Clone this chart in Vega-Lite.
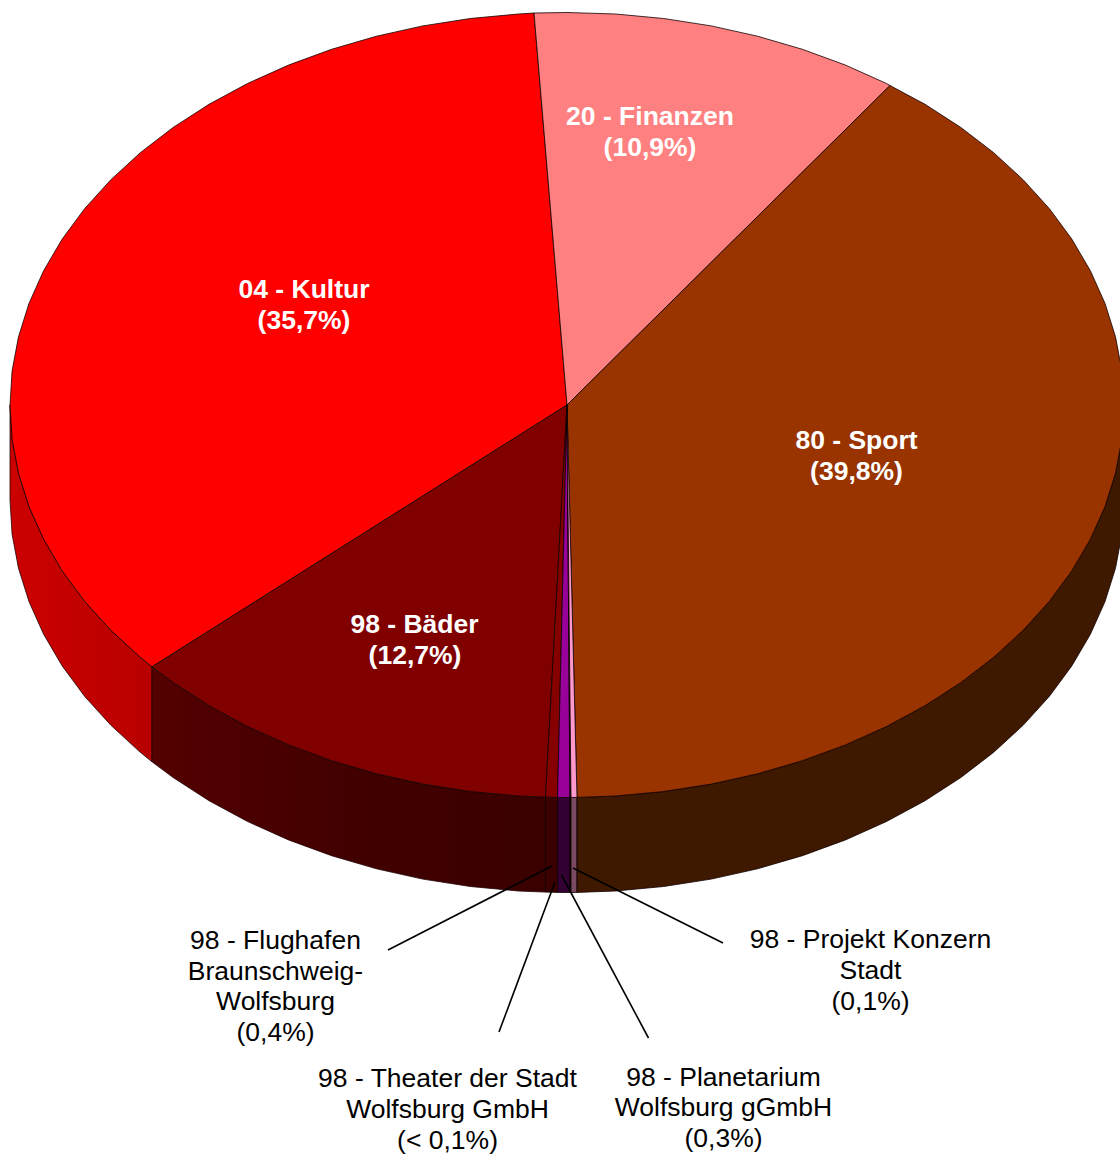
{"$schema":"https://vega.github.io/schema/vega-lite/v6.json","width":1120,"height":1155,"padding":0,"autosize":{"type":"fit","contains":"padding"},"background":"white","view":{"stroke":null},
"datasets":{"pie":[
{"part":"Wand Kultur","i":0,"x":10,"y":405},{"part":"Wand Kultur","i":1,"x":12.1,"y":439.2},{"part":"Wand Kultur","i":2,"x":18.5,"y":473.2},{"part":"Wand Kultur","i":3,"x":29,"y":506.6},{"part":"Wand Kultur","i":4,"x":43.6,"y":539.2},{"part":"Wand Kultur","i":5,"x":62.2,"y":570.9},{"part":"Wand Kultur","i":6,"x":84.6,"y":601.3},{"part":"Wand Kultur","i":7,"x":110.7,"y":630.1},{"part":"Wand Kultur","i":8,"x":140.3,"y":657.3},{"part":"Wand Kultur","i":9,"x":152,"y":666.8},{"part":"Wand Kultur","i":10,"x":152,"y":761.8},{"part":"Wand Kultur","i":11,"x":140.3,"y":752.3},{"part":"Wand Kultur","i":12,"x":110.7,"y":725.1},{"part":"Wand Kultur","i":13,"x":84.6,"y":696.3},{"part":"Wand Kultur","i":14,"x":62.2,"y":665.9},{"part":"Wand Kultur","i":15,"x":43.6,"y":634.2},{"part":"Wand Kultur","i":16,"x":29,"y":601.6},{"part":"Wand Kultur","i":17,"x":18.5,"y":568.2},{"part":"Wand Kultur","i":18,"x":12.1,"y":534.2},{"part":"Wand Kultur","i":19,"x":10,"y":500},{"part":"Wand Kultur","i":20,"x":10,"y":405},
{"part":"Wand Bäder","i":0,"x":152,"y":666.8},{"part":"Wand Bäder","i":1,"x":173.1,"y":682.5},{"part":"Wand Bäder","i":2,"x":209,"y":705.7},{"part":"Wand Bäder","i":3,"x":247.5,"y":726.5},{"part":"Wand Bäder","i":4,"x":288.5,"y":744.9},{"part":"Wand Bäder","i":5,"x":331.6,"y":760.7},{"part":"Wand Bäder","i":6,"x":376.5,"y":773.8},{"part":"Wand Bäder","i":7,"x":422.8,"y":784.1},{"part":"Wand Bäder","i":8,"x":470.3,"y":791.5},{"part":"Wand Bäder","i":9,"x":518.4,"y":796},{"part":"Wand Bäder","i":10,"x":545.5,"y":797.1},{"part":"Wand Bäder","i":11,"x":545.5,"y":892.1},{"part":"Wand Bäder","i":12,"x":518.4,"y":891},{"part":"Wand Bäder","i":13,"x":470.3,"y":886.5},{"part":"Wand Bäder","i":14,"x":422.8,"y":879.1},{"part":"Wand Bäder","i":15,"x":376.5,"y":868.8},{"part":"Wand Bäder","i":16,"x":331.6,"y":855.7},{"part":"Wand Bäder","i":17,"x":288.5,"y":839.9},{"part":"Wand Bäder","i":18,"x":247.5,"y":821.5},{"part":"Wand Bäder","i":19,"x":209,"y":800.7},{"part":"Wand Bäder","i":20,"x":173.1,"y":777.5},{"part":"Wand Bäder","i":21,"x":152,"y":761.8},{"part":"Wand Bäder","i":22,"x":152,"y":666.8},
{"part":"Wand Flughafen","i":0,"x":545.5,"y":797.1},{"part":"Wand Flughafen","i":1,"x":557.5,"y":797.4},{"part":"Wand Flughafen","i":2,"x":557.5,"y":892.4},{"part":"Wand Flughafen","i":3,"x":545.5,"y":892.1},{"part":"Wand Flughafen","i":4,"x":545.5,"y":797.1},
{"part":"Wand Planetarium","i":0,"x":557.5,"y":797.4},{"part":"Wand Planetarium","i":1,"x":570,"y":797.5},{"part":"Wand Planetarium","i":2,"x":570,"y":892.5},{"part":"Wand Planetarium","i":3,"x":557.5,"y":892.4},{"part":"Wand Planetarium","i":4,"x":557.5,"y":797.4},
{"part":"Wand Theater","i":0,"x":570,"y":797.5},{"part":"Wand Theater","i":1,"x":571,"y":797.5},{"part":"Wand Theater","i":2,"x":571,"y":892.5},{"part":"Wand Theater","i":3,"x":570,"y":892.5},{"part":"Wand Theater","i":4,"x":570,"y":797.5},
{"part":"Wand Projekt","i":0,"x":571,"y":797.5},{"part":"Wand Projekt","i":1,"x":577,"y":797.4},{"part":"Wand Projekt","i":2,"x":577,"y":892.4},{"part":"Wand Projekt","i":3,"x":571,"y":892.5},{"part":"Wand Projekt","i":4,"x":571,"y":797.5},
{"part":"Wand Sport","i":0,"x":577,"y":797.4},{"part":"Wand Sport","i":1,"x":615.6,"y":796},{"part":"Wand Sport","i":2,"x":663.7,"y":791.5},{"part":"Wand Sport","i":3,"x":711.2,"y":784.1},{"part":"Wand Sport","i":4,"x":757.5,"y":773.8},{"part":"Wand Sport","i":5,"x":802.4,"y":760.7},{"part":"Wand Sport","i":6,"x":845.5,"y":744.9},{"part":"Wand Sport","i":7,"x":886.5,"y":726.5},{"part":"Wand Sport","i":8,"x":925,"y":705.7},{"part":"Wand Sport","i":9,"x":960.9,"y":682.5},{"part":"Wand Sport","i":10,"x":993.7,"y":657.3},{"part":"Wand Sport","i":11,"x":1023.3,"y":630.1},{"part":"Wand Sport","i":12,"x":1049.4,"y":601.3},{"part":"Wand Sport","i":13,"x":1071.8,"y":570.9},{"part":"Wand Sport","i":14,"x":1090.4,"y":539.2},{"part":"Wand Sport","i":15,"x":1105,"y":506.6},{"part":"Wand Sport","i":16,"x":1115.5,"y":473.2},{"part":"Wand Sport","i":17,"x":1121.9,"y":439.2},{"part":"Wand Sport","i":18,"x":1124,"y":405},{"part":"Wand Sport","i":19,"x":1124,"y":500},{"part":"Wand Sport","i":20,"x":1121.9,"y":534.2},{"part":"Wand Sport","i":21,"x":1115.5,"y":568.2},{"part":"Wand Sport","i":22,"x":1105,"y":601.6},{"part":"Wand Sport","i":23,"x":1090.4,"y":634.2},{"part":"Wand Sport","i":24,"x":1071.8,"y":665.9},{"part":"Wand Sport","i":25,"x":1049.4,"y":696.3},{"part":"Wand Sport","i":26,"x":1023.3,"y":725.1},{"part":"Wand Sport","i":27,"x":993.7,"y":752.3},{"part":"Wand Sport","i":28,"x":960.9,"y":777.5},{"part":"Wand Sport","i":29,"x":925,"y":800.7},{"part":"Wand Sport","i":30,"x":886.5,"y":821.5},{"part":"Wand Sport","i":31,"x":845.5,"y":839.9},{"part":"Wand Sport","i":32,"x":802.4,"y":855.7},{"part":"Wand Sport","i":33,"x":757.5,"y":868.8},{"part":"Wand Sport","i":34,"x":711.2,"y":879.1},{"part":"Wand Sport","i":35,"x":663.7,"y":886.5},{"part":"Wand Sport","i":36,"x":615.6,"y":891},{"part":"Wand Sport","i":37,"x":577,"y":892.4},{"part":"Wand Sport","i":38,"x":577,"y":797.4},
{"part":"Kultur","i":0,"x":567,"y":405},{"part":"Kultur","i":1,"x":152,"y":666.8},{"part":"Kultur","i":2,"x":140.3,"y":657.3},{"part":"Kultur","i":3,"x":110.7,"y":630.1},{"part":"Kultur","i":4,"x":84.6,"y":601.3},{"part":"Kultur","i":5,"x":62.2,"y":570.9},{"part":"Kultur","i":6,"x":43.6,"y":539.2},{"part":"Kultur","i":7,"x":29,"y":506.6},{"part":"Kultur","i":8,"x":18.5,"y":473.2},{"part":"Kultur","i":9,"x":12.1,"y":439.2},{"part":"Kultur","i":10,"x":10,"y":405},{"part":"Kultur","i":11,"x":12.1,"y":370.8},{"part":"Kultur","i":12,"x":18.5,"y":336.8},{"part":"Kultur","i":13,"x":29,"y":303.4},{"part":"Kultur","i":14,"x":43.6,"y":270.8},{"part":"Kultur","i":15,"x":62.2,"y":239.1},{"part":"Kultur","i":16,"x":84.6,"y":208.7},{"part":"Kultur","i":17,"x":110.7,"y":179.9},{"part":"Kultur","i":18,"x":140.3,"y":152.7},{"part":"Kultur","i":19,"x":173.1,"y":127.5},{"part":"Kultur","i":20,"x":209,"y":104.3},{"part":"Kultur","i":21,"x":247.5,"y":83.5},{"part":"Kultur","i":22,"x":288.5,"y":65.1},{"part":"Kultur","i":23,"x":331.6,"y":49.3},{"part":"Kultur","i":24,"x":376.5,"y":36.2},{"part":"Kultur","i":25,"x":422.8,"y":25.9},{"part":"Kultur","i":26,"x":470.3,"y":18.5},{"part":"Kultur","i":27,"x":518.4,"y":14},{"part":"Kultur","i":28,"x":534,"y":13},{"part":"Kultur","i":29,"x":567,"y":405},
{"part":"Finanzen","i":0,"x":567,"y":405},{"part":"Finanzen","i":1,"x":534,"y":13},{"part":"Finanzen","i":2,"x":567,"y":12.5},{"part":"Finanzen","i":3,"x":615.6,"y":14},{"part":"Finanzen","i":4,"x":663.7,"y":18.5},{"part":"Finanzen","i":5,"x":711.2,"y":25.9},{"part":"Finanzen","i":6,"x":757.5,"y":36.2},{"part":"Finanzen","i":7,"x":802.4,"y":49.3},{"part":"Finanzen","i":8,"x":845.5,"y":65.1},{"part":"Finanzen","i":9,"x":886.5,"y":83.5},{"part":"Finanzen","i":10,"x":890,"y":85.5},{"part":"Finanzen","i":11,"x":567,"y":405},
{"part":"Sport","i":0,"x":567,"y":405},{"part":"Sport","i":1,"x":890,"y":85.5},{"part":"Sport","i":2,"x":925,"y":104.3},{"part":"Sport","i":3,"x":960.9,"y":127.5},{"part":"Sport","i":4,"x":993.7,"y":152.7},{"part":"Sport","i":5,"x":1023.3,"y":179.9},{"part":"Sport","i":6,"x":1049.4,"y":208.7},{"part":"Sport","i":7,"x":1071.8,"y":239.1},{"part":"Sport","i":8,"x":1090.4,"y":270.8},{"part":"Sport","i":9,"x":1105,"y":303.4},{"part":"Sport","i":10,"x":1115.5,"y":336.8},{"part":"Sport","i":11,"x":1121.9,"y":370.8},{"part":"Sport","i":12,"x":1124,"y":405},{"part":"Sport","i":13,"x":1121.9,"y":439.2},{"part":"Sport","i":14,"x":1115.5,"y":473.2},{"part":"Sport","i":15,"x":1105,"y":506.6},{"part":"Sport","i":16,"x":1090.4,"y":539.2},{"part":"Sport","i":17,"x":1071.8,"y":570.9},{"part":"Sport","i":18,"x":1049.4,"y":601.3},{"part":"Sport","i":19,"x":1023.3,"y":630.1},{"part":"Sport","i":20,"x":993.7,"y":657.3},{"part":"Sport","i":21,"x":960.9,"y":682.5},{"part":"Sport","i":22,"x":925,"y":705.7},{"part":"Sport","i":23,"x":886.5,"y":726.5},{"part":"Sport","i":24,"x":845.5,"y":744.9},{"part":"Sport","i":25,"x":802.4,"y":760.7},{"part":"Sport","i":26,"x":757.5,"y":773.8},{"part":"Sport","i":27,"x":711.2,"y":784.1},{"part":"Sport","i":28,"x":663.7,"y":791.5},{"part":"Sport","i":29,"x":615.6,"y":796},{"part":"Sport","i":30,"x":577,"y":797.4},{"part":"Sport","i":31,"x":567,"y":405},
{"part":"Bäder","i":0,"x":567,"y":405},{"part":"Bäder","i":1,"x":152,"y":666.8},{"part":"Bäder","i":2,"x":173.1,"y":682.5},{"part":"Bäder","i":3,"x":209,"y":705.7},{"part":"Bäder","i":4,"x":247.5,"y":726.5},{"part":"Bäder","i":5,"x":288.5,"y":744.9},{"part":"Bäder","i":6,"x":331.6,"y":760.7},{"part":"Bäder","i":7,"x":376.5,"y":773.8},{"part":"Bäder","i":8,"x":422.8,"y":784.1},{"part":"Bäder","i":9,"x":470.3,"y":791.5},{"part":"Bäder","i":10,"x":518.4,"y":796},{"part":"Bäder","i":11,"x":545.5,"y":797.1},{"part":"Bäder","i":12,"x":567,"y":405},
{"part":"Flughafen","i":0,"x":567,"y":405},{"part":"Flughafen","i":1,"x":545.5,"y":797.1},{"part":"Flughafen","i":2,"x":557.5,"y":797.4},{"part":"Flughafen","i":3,"x":567,"y":405},
{"part":"Planetarium","i":0,"x":567,"y":405},{"part":"Planetarium","i":1,"x":557.5,"y":797.4},{"part":"Planetarium","i":2,"x":570,"y":797.5},{"part":"Planetarium","i":3,"x":567,"y":405},
{"part":"Theater","i":0,"x":567,"y":405},{"part":"Theater","i":1,"x":570,"y":797.5},{"part":"Theater","i":2,"x":571,"y":797.5},{"part":"Theater","i":3,"x":567,"y":405},
{"part":"Projekt","i":0,"x":567,"y":405},{"part":"Projekt","i":1,"x":571,"y":797.5},{"part":"Projekt","i":2,"x":577,"y":797.4},{"part":"Projekt","i":3,"x":567,"y":405}
],
"leaders":[{"x":388,"y":950,"x2":552,"y2":866},{"x":499,"y":1032,"x2":555,"y2":882},{"x":648.5,"y":1038,"x2":561.5,"y2":875},{"x":723,"y":943,"x2":573,"y2":868}],
"white":[{"label":"20 - Finanzen","x":650,"y":117},{"label":"(10,9%)","x":650,"y":148},{"label":"04 - Kultur","x":304,"y":290},{"label":"(35,7%)","x":304,"y":321},{"label":"80 - Sport","x":856.5,"y":441},{"label":"(39,8%)","x":856.5,"y":472},{"label":"98 - Bäder","x":414.5,"y":625},{"label":"(12,7%)","x":415,"y":656}],
"black":[{"label":"98 - Flughafen","x":275.5,"y":941},{"label":"Braunschweig-","x":275.5,"y":972},{"label":"Wolfsburg","x":275.5,"y":1002},{"label":"(0,4%)","x":275.5,"y":1033},{"label":"98 - Theater der Stadt","x":447.5,"y":1079},{"label":"Wolfsburg GmbH","x":447.5,"y":1110},{"label":"(< 0,1%)","x":447.5,"y":1141},{"label":"98 - Planetarium","x":723.5,"y":1078},{"label":"Wolfsburg gGmbH","x":723.5,"y":1108},{"label":"(0,3%)","x":723.5,"y":1139},{"label":"98 - Projekt Konzern","x":870.5,"y":940},{"label":"Stadt","x":870.5,"y":971},{"label":"(0,1%)","x":870.5,"y":1002}]},
"encoding":{"x":{"field":"x","type":"quantitative","scale":{"domain":[0,1120],"nice":false,"zero":false},"axis":null},"y":{"field":"y","type":"quantitative","scale":{"domain":[1155,0],"nice":false,"zero":false},"axis":null}},
"layer":[
{"data":{"name":"pie"},"transform":[{"filter":"datum.part === 'Wand Kultur'"}],"mark":{"type":"line","filled":true,"clip":true,"stroke":"#200000","strokeWidth":0.8,"strokeJoin":"round","fill":{"gradient":"linear","x1":0,"y1":0,"x2":1,"y2":0,"stops":[{"offset":0,"color":"#cc0000"},{"offset":1,"color":"#b80000"}]}},"encoding":{"order":{"field":"i"}}},
{"data":{"name":"pie"},"transform":[{"filter":"datum.part === 'Wand Bäder'"}],"mark":{"type":"line","filled":true,"clip":true,"stroke":"#200000","strokeWidth":0.8,"strokeJoin":"round","fill":{"gradient":"linear","x1":0,"y1":0,"x2":1,"y2":0,"stops":[{"offset":0,"color":"#540000"},{"offset":0.5,"color":"#420000"},{"offset":1,"color":"#3a0000"}]}},"encoding":{"order":{"field":"i"}}},
{"data":{"name":"pie"},"transform":[{"filter":"datum.part !== 'Wand Kultur' && datum.part !== 'Wand Bäder'"}],"mark":{"type":"line","filled":true,"clip":true,"stroke":"#100000","strokeWidth":0.8,"strokeJoin":"round"},"encoding":{"order":{"field":"i"},"fill":{"field":"part","type":"nominal","legend":null,"scale":{"domain":["Wand Flughafen","Wand Planetarium","Wand Theater","Wand Projekt","Wand Sport","Kultur","Finanzen","Sport","Bäder","Flughafen","Planetarium","Theater","Projekt"],"range":["#3a0000","#330033","#000000","#7a4a60","#3f1800","#ff0000","#ff8080","#993300","#800000","#860000","#990099","#000000","#ff99cc"]}}}},
{"data":{"name":"leaders"},"mark":{"type":"rule","color":"black","strokeWidth":1.6},"encoding":{"x2":{"field":"x2"},"y2":{"field":"y2"}}},
{"data":{"name":"white"},"mark":{"type":"text","font":"Liberation Sans","fontSize":26.5,"fontWeight":"bold","color":"white","align":"center","baseline":"middle"},"encoding":{"text":{"field":"label"}}},
{"data":{"name":"black"},"mark":{"type":"text","font":"Liberation Sans","fontSize":26.5,"color":"black","align":"center","baseline":"middle"},"encoding":{"text":{"field":"label"}}}
]}
